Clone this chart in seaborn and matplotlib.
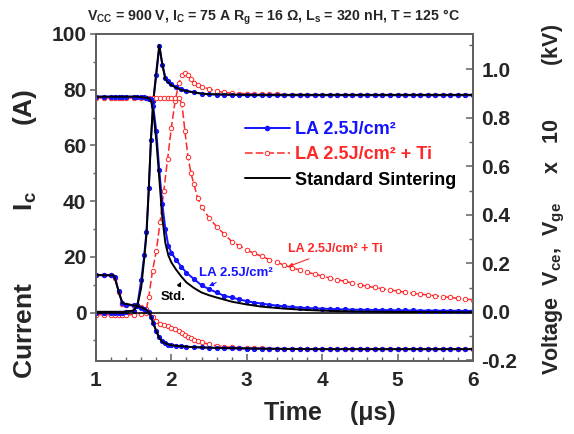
import matplotlib
matplotlib.use('Agg')
import matplotlib.pyplot as plt
import seaborn as sns
from matplotlib.ticker import MultipleLocator, FixedLocator

sns.set_theme(style='ticks')
plt.rcParams['font.family'] = ['Liberation Sans', 'DejaVu Sans']
plt.rcParams['font.weight'] = 'bold'
plt.rcParams['mathtext.fontset'] = 'custom'
plt.rcParams['mathtext.rm'] = 'Liberation Sans:bold'
plt.rcParams['mathtext.it'] = 'Liberation Sans:bold'
plt.rcParams['mathtext.bf'] = 'Liberation Sans:bold'
plt.rcParams['mathtext.default'] = 'rm'

# --- data (time in us, Ic in A, Vce / Vge x10 in kV) ---
blue_t = [1.0, 1.1, 1.2, 1.25, 1.3, 1.35, 1.4, 1.5, 1.55, 1.6, 1.64, 1.67, 1.7, 1.73, 1.76,
          1.8, 1.84, 1.88, 1.92, 1.96, 2.0, 2.06, 2.13, 2.2, 2.3,
          2.4, 2.5, 2.6, 2.7, 2.8, 2.9, 3.0, 3.1, 3.2, 3.3, 3.4, 3.5, 3.6, 3.7, 3.8, 3.9,
          4.0, 4.1, 4.2, 4.3, 4.4, 4.5, 4.6, 4.7, 4.8, 4.9, 5.0, 5.1, 5.2, 5.3, 5.4, 5.5,
          5.6, 5.7, 5.8, 5.9, 6.0]
blue_vce = [-0.005, -0.005, -0.005, -0.005, -0.005, -0.003, -0.002, 0.005, 0.03, 0.13, 0.234, 0.33, 0.51, 0.71, 0.87,
            0.975, 1.095, 1.02, 0.965, 0.95, 0.94, 0.928, 0.92, 0.912, 0.905,
            0.9, 0.897, 0.896, 0.895, 0.894, 0.894, 0.893, 0.893, 0.893, 0.893, 0.893, 0.893, 0.893, 0.893, 0.893, 0.893,
            0.893, 0.893, 0.893, 0.893, 0.893, 0.893, 0.893, 0.893, 0.893, 0.893, 0.893, 0.893, 0.893, 0.893, 0.893, 0.893,
            0.893, 0.893, 0.893, 0.893, 0.893]
blue_ic = [77.5, 77.5, 77.5, 77.5, 77.5, 77.5, 77.5, 77.5, 77.5, 77.3, 77.2, 77.0, 76.8, 76.5, 74.0,
           65.0, 51.0, 39.0, 30.0, 24.0, 21.5, 19.0, 16.5, 14.3, 12.0,
           9.8, 8.4, 7.2, 6.0, 5.4, 4.7, 4.1, 3.6, 3.2, 2.8, 2.5, 2.2, 2.0, 1.8, 1.6, 1.5,
           1.4, 1.3, 1.2, 1.1, 1.05, 1.0, 1.0, 0.9, 0.9, 0.85, 0.8, 0.8, 0.75, 0.7, 0.7, 0.7,
           0.65, 0.65, 0.6, 0.6, 0.6]
blue_vge = [0.151, 0.151, 0.151, 0.145, 0.085, 0.035, 0.028, 0.026, 0.022, 0.015, 0.01, 0.005, 0.0, -0.02, -0.045,
            -0.08, -0.105, -0.122, -0.13, -0.135, -0.138, -0.14, -0.142, -0.144, -0.146,
            -0.147, -0.148, -0.149, -0.15, -0.151, -0.151, -0.152, -0.152, -0.152, -0.153, -0.153, -0.153, -0.153, -0.153, -0.154, -0.154,
            -0.154, -0.154, -0.154, -0.154, -0.154, -0.154, -0.154, -0.154, -0.154, -0.154, -0.154, -0.154, -0.154, -0.154, -0.154, -0.154,
            -0.154, -0.154, -0.154, -0.154, -0.154]

red_t = [1.0, 1.1, 1.2, 1.25, 1.3, 1.35, 1.4, 1.5, 1.6, 1.66, 1.7, 1.75, 1.8, 1.85, 1.9, 1.95,
         2.0, 2.05, 2.1, 2.14, 2.18, 2.22, 2.26, 2.3, 2.35, 2.4, 2.5, 2.6, 2.7, 2.8, 2.9, 3.0,
         3.1, 3.2, 3.3, 3.4, 3.5, 3.6, 3.7, 3.8, 3.9, 4.0, 4.1, 4.2, 4.3, 4.4, 4.5,
         4.6, 4.7, 4.8, 4.9, 5.0, 5.1, 5.2, 5.3, 5.4, 5.5, 5.6, 5.7, 5.8, 5.9, 6.0]
red_vce = [-0.012, -0.012, -0.012, -0.012, -0.012, -0.012, -0.012, -0.012, -0.01, -0.005, 0.06, 0.17, 0.25, 0.37, 0.5, 0.63,
           0.76, 0.87, 0.945, 0.975, 0.985, 0.978, 0.96, 0.945, 0.935, 0.928, 0.92, 0.91, 0.905, 0.902, 0.9, 0.9,
           0.898, 0.898, 0.897, 0.897, 0.896, 0.896, 0.896, 0.895, 0.895, 0.895, 0.895, 0.895, 0.895, 0.895, 0.895,
           0.895, 0.895, 0.895, 0.895, 0.895, 0.895, 0.895, 0.895, 0.895, 0.895, 0.895, 0.895, 0.895, 0.895, 0.895]
red_ic = [77.0, 77.0, 77.0, 77.0, 77.0, 77.0, 77.0, 77.0, 77.0, 77.0, 77.0, 77.0, 77.0, 77.0, 77.0, 77.0,
          77.0, 77.0, 77.0, 75.0, 65.0, 56.0, 50.0, 46.0, 41.0, 38.0, 34.0, 30.8, 28.2, 25.5, 24.0, 22.5,
          21.2, 20.2, 19.0, 18.0, 17.0, 16.1, 15.3, 14.5, 13.8, 13.1, 12.4, 11.8, 11.2, 10.6, 10.0,
          9.4, 9.0, 8.5, 8.1, 7.7, 7.3, 6.9, 6.6, 6.3, 6.0, 5.7, 5.4, 5.1, 4.8, 4.6]
red_vge = [0.15, 0.15, 0.15, 0.14, 0.08, 0.033, 0.028, 0.025, 0.018, 0.01, 0.0, -0.02, -0.04, -0.05, -0.056, -0.06,
           -0.066, -0.072, -0.08, -0.087, -0.095, -0.102, -0.11, -0.116, -0.122, -0.126, -0.134, -0.14, -0.144, -0.146, -0.148, -0.15,
           -0.151, -0.151, -0.152, -0.152, -0.153, -0.153, -0.153, -0.154, -0.154, -0.154, -0.154, -0.154, -0.155, -0.155, -0.155,
           -0.155, -0.155, -0.155, -0.155, -0.155, -0.155, -0.155, -0.155, -0.155, -0.155, -0.155, -0.155, -0.155, -0.155, -0.155]

black_t = [1.0, 1.24, 1.3, 1.35, 1.5, 1.55, 1.6, 1.64, 1.67, 1.7, 1.73, 1.76, 1.8, 1.84, 1.88, 1.92,
           1.96, 2.0, 2.06, 2.13, 2.2, 2.3, 2.4, 2.5, 2.6, 2.8, 3.0, 3.2, 3.5, 3.8, 4.2, 4.6, 5.0, 6.0]
black_vce = [0.0, 0.0, 0.0, 0.0, 0.005, 0.025, 0.1, 0.22, 0.32, 0.5, 0.72, 0.87, 0.99, 1.10, 1.02, 0.96,
             0.945, 0.935, 0.925, 0.915, 0.91, 0.905, 0.9, 0.898, 0.897, 0.896, 0.895, 0.895, 0.895, 0.895, 0.895, 0.895, 0.895, 0.895]
black_ic = [77.5, 77.5, 77.5, 77.5, 77.5, 77.5, 77.3, 77.2, 77.1, 77.0, 76.0, 72.0, 62.0, 48.0, 34.0, 25.0,
            20.5, 18.0, 15.5, 13.0, 10.8, 8.8, 7.2, 6.2, 5.4, 3.9, 2.9, 2.1, 1.4, 0.9, 0.5, 0.3, 0.2, 0.1]
black_vge = [0.152, 0.15, 0.085, 0.035, 0.027, 0.024, 0.018, 0.012, 0.007, 0.0, -0.02, -0.048, -0.08, -0.108, -0.124, -0.13,
             -0.135, -0.138, -0.14, -0.142, -0.144, -0.146, -0.147, -0.148, -0.149, -0.15, -0.151, -0.152, -0.153, -0.154, -0.154, -0.154, -0.154, -0.154]

legend_labels = ['LA 2.5J/cm²', 'LA 2.5J/cm² + Ti', 'Standard Sintering']

BLUE = '#1414ff'
RED = '#ff2828'
BLACK = '#000000'
GREY = '#606060'

fig = plt.figure(figsize=(5.74, 4.34), dpi=100)
ax = fig.add_axes([0.1672, 0.1682, 0.6568, 0.7535])
ax2 = ax.twinx()

blue_kw = dict(color=BLUE, lw=1.4, marker='o', markersize=3, markeredgecolor=BLUE, markerfacecolor=BLUE)
red_kw = dict(color=RED, lw=1.1, linestyle=(0, (5, 2)), marker='o', markersize=3.2,
              markeredgecolor=RED, markerfacecolor='white', markeredgewidth=0.7)
black_kw = dict(color=BLACK, lw=1.4)

ax.axhline(0, color='black', lw=1.1, zorder=1)

# current on left axis
sns.lineplot(x=red_t, y=red_ic, ax=ax, **red_kw)
sns.lineplot(x=blue_t, y=blue_ic, ax=ax, **blue_kw)
sns.lineplot(x=black_t, y=black_ic, ax=ax, **black_kw)

# voltages on right axis
sns.lineplot(x=red_t, y=red_vce, ax=ax2, **red_kw)
sns.lineplot(x=red_t, y=red_vge, ax=ax2, **red_kw)
sns.lineplot(x=blue_t, y=blue_vce, ax=ax2, **blue_kw)
sns.lineplot(x=blue_t, y=blue_vge, ax=ax2, **blue_kw)
sns.lineplot(x=black_t, y=black_vce, ax=ax2, **black_kw)
sns.lineplot(x=black_t, y=black_vge, ax=ax2, **black_kw)

ax.set_xlim(1, 6)
ax.set_ylim(-17.4, 100)
ax2.set_ylim(-0.203, 1.146)

ax.xaxis.set_major_locator(MultipleLocator(1))
ax.xaxis.set_minor_locator(MultipleLocator(0.2))
ax.yaxis.set_major_locator(FixedLocator([0, 20, 40, 60, 80, 100]))
ax.yaxis.set_minor_locator(FixedLocator([-10, 10, 30, 50, 70, 90]))
ax2.yaxis.set_major_locator(FixedLocator([-0.2, 0.0, 0.2, 0.4, 0.6, 0.8, 1.0]))
ax2.yaxis.set_minor_locator(FixedLocator([-0.1, 0.1, 0.3, 0.5, 0.7, 0.9, 1.1]))
ax2.yaxis.set_major_formatter(matplotlib.ticker.FormatStrFormatter('%.1f'))

ax.tick_params(axis='y', which='major', direction='out', length=4, width=1.1, labelsize=15, pad=3, color=GREY)
ax.tick_params(axis='y', which='minor', direction='out', length=2.5, width=1.0, color=GREY)
ax.tick_params(axis='x', which='major', direction='in', length=5, width=1.1, labelsize=15, pad=7, color=GREY)
ax.tick_params(axis='x', which='minor', direction='in', length=3, width=1.0, color=GREY)
ax.tick_params(axis='y', right=False, which='both')
ax2.tick_params(axis='y', which='major', direction='in', length=5, width=1.1, labelsize=15, pad=6, color=GREY)
ax2.tick_params(axis='y', which='minor', direction='in', length=3, width=1.0, color=GREY)

for a in (ax, ax2):
    for s in a.spines.values():
        s.set_visible(True)
        s.set_color(GREY)
        s.set_linewidth(1.3)

ax.set_xlabel('Time    (μs)', fontsize=18, fontweight='bold')
ax.xaxis.set_label_coords(0.62, -0.122)
ax.set_ylabel('Current' + ' ' * 10 + 'I$_c$' + ' ' * 9 + '(A)', fontsize=19, fontweight='bold')
ax.yaxis.set_label_coords(-0.15, 0.39)
ax2.set_ylabel('Voltage  V$_{ce}$,  V$_{ge}$     x   10' + ' ' * 9 + '(kV)', fontsize=15.5, fontweight='bold')
ax2.yaxis.set_label_coords(1.18, 0.495)

fig.text(273 / 574, 1 - 17 / 434,
         'V$_{CC}$ = 900 V, I$_C$ = 75 A R$_g$ = 16 Ω, L$_s$ = 320 nH, T = 125 °C',
         ha='center', va='center', fontsize=10.2, fontweight='bold')

# legend
h_blue = plt.Line2D([], [], **blue_kw)
h_red = plt.Line2D([], [], **red_kw)
h_black = plt.Line2D([], [], **black_kw)
leg = ax.legend([h_blue, h_red, h_black], legend_labels, loc='upper left',
                bbox_to_anchor=(0.395, 0.733), frameon=False, handlelength=2.5,
                handletextpad=0.3, labelspacing=0.45, borderpad=0, borderaxespad=0,
                prop={'size': 13, 'weight': 'bold'})
for txt, c in zip(leg.get_texts(), [BLUE, RED, BLACK]):
    txt.set_color(c)

# curve labels
ax.annotate('LA 2.5J/cm²', xy=(2.50, 9.5), xytext=(2.86, 14.3), color=BLUE,
            fontsize=9.5, fontweight='bold', ha='center', va='center',
            arrowprops=dict(arrowstyle='-|>', color=BLUE, lw=0.8, mutation_scale=6, shrinkA=1, shrinkB=0))
ax.annotate('Std.', xy=(2.13, 11.0), xytext=(2.02, 5.6), color=BLACK,
            fontsize=9.5, fontweight='bold', ha='center', va='center',
            arrowprops=dict(arrowstyle='-|>', color=BLACK, lw=0.8, mutation_scale=6, shrinkA=1, shrinkB=0))
ax.annotate('LA 2.5J/cm² + Ti', xy=(3.55, 16.5), xytext=(4.17, 22.8), color=RED,
            fontsize=9, fontweight='bold', ha='center', va='center',
            arrowprops=dict(arrowstyle='-|>', color=RED, lw=0.8, mutation_scale=6, shrinkA=1, shrinkB=0))

ax.set_zorder(ax2.get_zorder() + 1)
ax.patch.set_visible(False)

fig.savefig('out.png', dpi=100)
